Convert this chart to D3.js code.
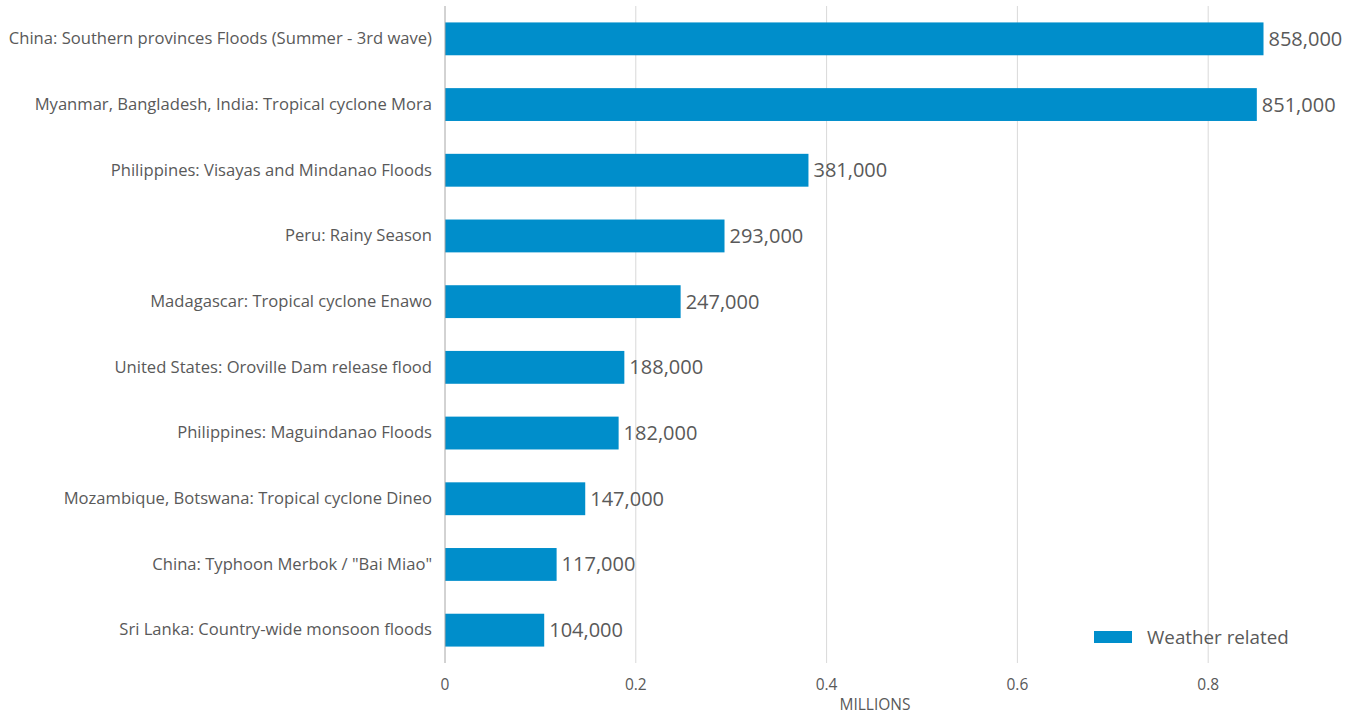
<html>
  <head>
    <style>
      body { margin: 0; background: #fff; }
      text { font-family: "Open Sans", "Noto Sans", sans-serif; fill: #595959; }
    </style>
  </head>
  <body>
    <script src="https://d3js.org/d3.v7.min.js"></script>
    <script>
      // DATA
      const categories = [
        "China: Southern provinces Floods (Summer - 3rd wave)",
        "Myanmar, Bangladesh, India: Tropical cyclone Mora",
        "Philippines: Visayas and Mindanao Floods",
        "Peru: Rainy Season",
        "Madagascar: Tropical cyclone Enawo",
        "United States: Oroville Dam release flood",
        "Philippines: Maguindanao Floods",
        "Mozambique, Botswana: Tropical cyclone Dineo",
        'China: Typhoon Merbok / "Bai Miao"',
        "Sri Lanka: Country-wide monsoon floods"
      ];
      const values = [858000, 851000, 381000, 293000, 247000, 188000, 182000, 147000, 117000, 104000];
      const xTicks = [0, 0.2, 0.4, 0.6, 0.8];
      const seriesName = "Weather related";
      const axisTitle = "MILLIONS";

      const width = 1359, height = 716;
      const margin = { top: 6, right: 54, bottom: 53, left: 445 };

      const svg = d3.select("body").append("svg")
        .attr("width", width)
        .attr("height", height);

      const x = d3.scaleLinear()
        .domain([0, 0.9015])
        .range([margin.left, width - margin.right]);

      const y = d3.scaleBand()
        .domain(categories)
        .range([margin.top, height - margin.bottom])
        .paddingInner(0.5)
        .paddingOuter(0.25);

      // gridlines
      svg.append("g")
        .selectAll("line")
        .data(xTicks.slice(1))
        .enter()
        .append("line")
        .attr("x1", (d) => x(d))
        .attr("x2", (d) => x(d))
        .attr("y1", margin.top)
        .attr("y2", height - margin.bottom)
        .attr("stroke", "#d9d9d9")
        .attr("stroke-width", 1);

      // bottom tick labels
      svg.append("g")
        .selectAll("text")
        .data(xTicks)
        .enter()
        .append("text")
        .attr("x", (d) => x(d))
        .attr("y", 690)
        .attr("text-anchor", "middle")
        .style("font-size", "15.5px")
        .text((d) => d3.format("")(d));

      svg.append("text")
        .attr("x", 875)
        .attr("y", 710)
        .attr("text-anchor", "middle")
        .style("font-size", "15.5px")
        .text(axisTitle);

      // bars
      svg.append("g")
        .selectAll("rect")
        .data(values)
        .enter()
        .append("rect")
        .attr("x", x(0))
        .attr("y", (d, i) => y(categories[i]))
        .attr("width", (d) => x(d / 1e6) - x(0))
        .attr("height", y.bandwidth())
        .attr("fill", "#008ecb");

      // value labels
      svg.append("g")
        .selectAll("text")
        .data(values)
        .enter()
        .append("text")
        .attr("x", (d) => x(d / 1e6) + 5)
        .attr("y", (d, i) => y(categories[i]) + y.bandwidth() / 2)
        .attr("dy", "0.35em")
        .style("font-size", "20px")
        .text((d) => d3.format(",")(d));

      // category labels
      const yAxis = svg.append("g")
        .attr("transform", `translate(${margin.left},0)`)
        .call(d3.axisLeft(y).tickSize(0).tickPadding(13));
      yAxis.select(".domain").remove();
      yAxis.selectAll("text")
        .style("font-family", '"Open Sans", "Noto Sans", sans-serif')
        .style("font-size", "16.6px")
        .attr("fill", "#595959");

      // axis line
      svg.append("line")
        .attr("x1", x(0))
        .attr("x2", x(0))
        .attr("y1", margin.top)
        .attr("y2", height - margin.bottom)
        .attr("stroke", "#a6a6a6")
        .attr("stroke-width", 1);

      // legend
      const legend = svg.append("g").attr("transform", "translate(1094,631)");
      legend.append("rect")
        .attr("width", 38)
        .attr("height", 12)
        .attr("fill", "#008ecb");
      legend.append("text")
        .attr("x", 53)
        .attr("y", 6)
        .attr("dy", "0.35em")
        .style("font-size", "18.8px")
        .text(seriesName);
    </script>
  </body>
</html>
